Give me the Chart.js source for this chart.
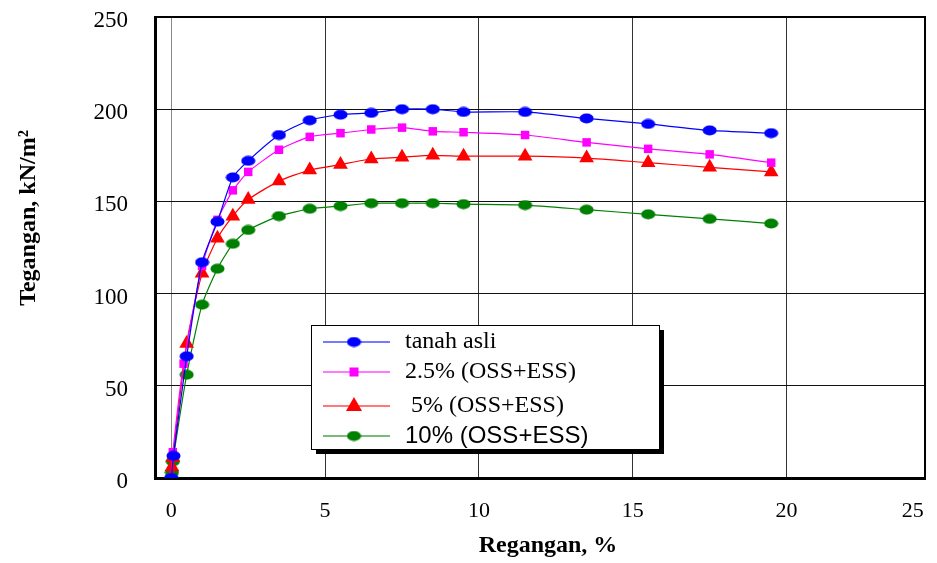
<!DOCTYPE html>
<html>
<head>
<meta charset="utf-8">
<script src="https://cdn.jsdelivr.net/npm/chart.js@4/dist/chart.umd.min.js"></script>
<style>
html, body { margin: 0; padding: 0; background: #fff; }
#wrap { width: 937px; height: 563px; }
</style>
</head>
<body>
<div id="wrap"><canvas id="chart" width="937" height="563"></canvas></div>
<script>
// values: strain (%) vs stress (kN/m2)
const seriesNames = ['tanah asli', '2.5% (OSS+ESS)', ' 5% (OSS+ESS)', '10% (OSS+ESS)'];
const xTitle = 'Regangan, %';
const yTitle = 'Tegangan, kN/m²';

const asliX = [0, 0.07, 0.5, 1, 1.5, 2, 2.5, 3.5, 4.5, 5.5, 6.5, 7.5, 8.5, 9.5, 11.5, 13.5, 15.5, 17.5, 19.5];
const asliY = [0, 12, 66, 117, 139, 163, 172, 186, 194, 197, 198, 200, 200, 198.5, 198.5, 195, 192, 188.5, 187];

const oss25X = [0, 0.05, 0.4, 1, 1.5, 2, 2.5, 3.5, 4.5, 5.5, 6.5, 7.5, 8.5, 9.5, 11.5, 13.5, 15.5, 17.5, 19.5];
const oss25Y = [0, 14, 62, 115, 140, 156, 166, 178, 185, 187, 189, 190, 188, 187.5, 186, 182, 178.5, 175.5, 171];

const oss5X = [0, 0.02, 0.05, 0.5, 1, 1.5, 2, 2.5, 3.5, 4.5, 5.5, 6.5, 7.5, 8.5, 9.5, 11.5, 13.5, 15.5, 17.5, 19.5];
const oss5Y = [0, 6, 11, 73, 111, 130, 142, 151, 161, 167, 170, 173, 174, 175, 174.5, 174.5, 173.5, 171, 168.5, 166];

const oss10X = [0, 0.02, 0.05, 0.5, 1, 1.5, 2, 2.5, 3.5, 4.5, 5.5, 6.5, 7.5, 8.5, 9.5, 11.5, 13.5, 15.5, 17.5, 19.5];
const oss10Y = [0, 3, 9, 56, 94, 113.5, 127, 134.5, 142, 146, 147.5, 149, 149, 149, 148.5, 148, 145.5, 143, 140.5, 138];

const xTickValues = [0, 5, 10, 15, 20, 25];
const xTickLabels = ['0', '5', '10', '15', '20', '25'];
const yTickValues = [0, 50, 100, 150, 200, 250];

const colors = ['#0000ff', '#ff00ff', '#ff0000', '#008000'];

function toPoints(xs, ys) {
    return xs.map((x, i) => ({ x: x, y: ys[i] }));
}

// oval markers like the original
function ellipseImage(color) {
    const c = document.createElement('canvas');
    c.width = 15;
    c.height = 11;
    const g = c.getContext('2d');
    g.fillStyle = color;
    g.beginPath();
    g.ellipse(7.5, 5.5, 7, 5, 0, 0, Math.PI * 2);
    g.fill();
    return c;
}
const blueOval = ellipseImage(colors[0]);
const greenOval = ellipseImage(colors[3]);

const styles = [
    { pointStyle: blueOval, radius: 7 },
    { pointStyle: 'rect', radius: 6 },
    { pointStyle: 'triangle', radius: 8.5 },
    { pointStyle: greenOval, radius: 7 }
];

const allData = [toPoints(asliX, asliY), toPoints(oss25X, oss25Y), toPoints(oss5X, oss5Y), toPoints(oss10X, oss10Y)];

const datasets = allData.map((d, i) => ({
    label: seriesNames[i],
    data: d,
    showLine: true,
    borderColor: colors[i],
    backgroundColor: colors[i],
    borderWidth: 1.2,
    tension: 0.2,
    pointStyle: styles[i].pointStyle,
    pointRadius: styles[i].radius,
    pointHoverRadius: styles[i].radius,
    pointBorderWidth: 0,
    pointBackgroundColor: colors[i]
}));

const serif = 'Liberation Serif';

const framePlugin = {
    id: 'frame',
    afterDraw(chart) {
        const ctx = chart.ctx;
        const a = chart.chartArea;
        ctx.save();
        // box around plot
        ctx.strokeStyle = '#000';
        ctx.lineWidth = 2;
        ctx.beginPath();
        ctx.moveTo(a.left, a.top);
        ctx.lineTo(a.right, a.top);
        ctx.lineTo(a.right, a.bottom);
        ctx.stroke();

        // axis titles
        ctx.fillStyle = '#000';
        ctx.textAlign = 'center';
        ctx.textBaseline = 'middle';
        ctx.font = 'bold 24px "' + serif + '"';
        ctx.fillText(xTitle, 548, 546);
        ctx.save();
        ctx.translate(29, 218);
        ctx.rotate(-Math.PI / 2);
        ctx.fillText(yTitle, 0, 0);
        ctx.restore();

        // legend with drop shadow
        const lx = 311, ly = 325, lw = 348, lh = 124;
        ctx.fillStyle = '#000';
        ctx.fillRect(lx + 5, ly + 5, lw, lh);
        ctx.fillStyle = '#fff';
        ctx.fillRect(lx, ly, lw, lh);
        ctx.lineWidth = 1;
        ctx.strokeStyle = '#000';
        ctx.strokeRect(lx + 0.5, ly + 0.5, lw, lh);

        const rows = [342, 372, 406, 436];
        rows.forEach((ry, i) => {
            ctx.strokeStyle = colors[i];
            ctx.globalAlpha = 0.7;
            ctx.lineWidth = 1.5;
            ctx.beginPath();
            ctx.moveTo(323, ry);
            ctx.lineTo(390, ry);
            ctx.stroke();
            ctx.globalAlpha = 1;
            const mx = 354;
            ctx.fillStyle = colors[i];
            if (i === 0 || i === 3) {
                const img = i === 0 ? blueOval : greenOval;
                ctx.drawImage(img, mx - img.width / 2, ry - img.height / 2);
            } else if (i === 1) {
                ctx.fillRect(mx - 4.5, ry - 4.5, 9, 9);
            } else {
                ctx.beginPath();
                ctx.moveTo(mx, ry - 9);
                ctx.lineTo(mx + 8, ry + 5);
                ctx.lineTo(mx - 8, ry + 5);
                ctx.closePath();
                ctx.fill();
            }
            ctx.fillStyle = '#000';
            ctx.textBaseline = 'middle';
            ctx.textAlign = 'left';
            ctx.font = i === 3 ? '24px "Liberation Sans"' : '24px "' + serif + '"';
            ctx.fillText(seriesNames[i], 405, ry);
        });
        ctx.restore();
    }
};

new Chart(document.getElementById('chart'), {
    type: 'scatter',
    data: { datasets },
    plugins: [framePlugin],
    options: {
        responsive: false,
        animation: false,
        events: [],
        layout: { padding: { left: 0, right: 12, top: 17, bottom: 0 } },
        plugins: {
            legend: { display: false },
            tooltip: { enabled: false }
        },
        scales: {
            x: {
                type: 'linear',
                min: -0.53,
                max: 24.5,
                afterBuildTicks: s => { s.ticks = xTickValues.map(v => ({ value: Math.min(v, 24.1) })); },
                afterFit: s => {
                    s.height = 85;
                    s.paddingLeft = 0;
                    s.paddingRight = 0;
                },
                ticks: {
                    callback: (v, i) => xTickLabels[i],
                    padding: 20,
                    color: '#000',
                    maxRotation: 0,
                    autoSkip: false,
                    font: { family: serif, size: 22 }
                },
                grid: {
                    drawTicks: false,
                    lineWidth: 1,
                    color: c => {
                        if (!c.tick) return 'rgba(0,0,0,0)';
                        if (c.tick.value === 0) return '#8a8a8a';
                        if (c.tick.value > 24) return 'rgba(0,0,0,0)';
                        return '#333';
                    }
                },
                border: { display: true, color: '#000', width: 3 },
                title: { display: false }
            },
            y: {
                type: 'linear',
                min: 0,
                max: 250,
                afterBuildTicks: s => { s.ticks = yTickValues.map(v => ({ value: v })); },
                afterFit: s => {
                    s.width = 155;
                    s.paddingTop = 0;
                    s.paddingBottom = 0;
                },
                ticks: {
                    padding: 27,
                    labelOffset: 4,
                    color: '#000',
                    font: { family: serif, size: 23 }
                },
                grid: {
                    drawTicks: false,
                    lineWidth: 1,
                    color: c => {
                        if (!c.tick) return 'rgba(0,0,0,0)';
                        if (c.tick.value === 0 || c.tick.value === 250) return 'rgba(0,0,0,0)';
                        return '#111';
                    }
                },
                border: { display: true, color: '#000', width: 3 },
                title: { display: false }
            }
        }
    }
});
</script>
</body>
</html>
